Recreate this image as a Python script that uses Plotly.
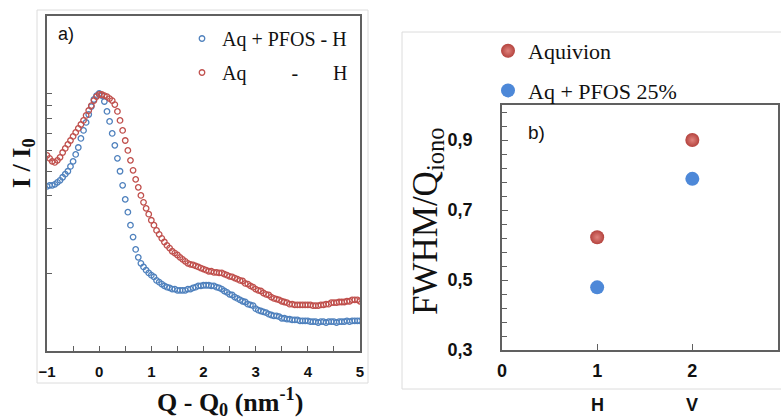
import plotly.graph_objects as go

# ---------------- Panel a data ----------------
q = [-1.00, -0.95, -0.90, -0.85, -0.80, -0.75, -0.70, -0.65, -0.60, -0.55,
     -0.50, -0.45, -0.40, -0.35, -0.30, -0.25, -0.20, -0.15, -0.10, -0.05,
     0.00, 0.05, 0.10, 0.15, 0.20, 0.25, 0.30, 0.35, 0.40, 0.45,
     0.50, 0.55, 0.60, 0.65, 0.70, 0.75, 0.80, 0.85, 0.90, 0.95,
     1.00, 1.05, 1.10, 1.15, 1.20, 1.25, 1.30, 1.35, 1.40, 1.45,
     1.50, 1.55, 1.60, 1.65, 1.70, 1.75, 1.80, 1.85, 1.90, 1.95,
     2.00, 2.05, 2.10, 2.15, 2.20, 2.25, 2.30, 2.35, 2.40, 2.45,
     2.50, 2.55, 2.60, 2.65, 2.70, 2.75, 2.80, 2.85, 2.90, 2.95,
     3.00, 3.05, 3.10, 3.15, 3.20, 3.25, 3.30, 3.35, 3.40, 3.45,
     3.50, 3.55, 3.60, 3.65, 3.70, 3.75, 3.80, 3.85, 3.90, 3.95,
     4.00, 4.05, 4.10, 4.15, 4.20, 4.25, 4.30, 4.35, 4.40, 4.45,
     4.50, 4.55, 4.60, 4.65, 4.70, 4.75, 4.80, 4.85, 4.90, 4.95, 5.00]

i_pfos_h = [0.436, 0.440, 0.440, 0.444, 0.452, 0.460, 0.473, 0.486, 0.499, 0.521,
            0.545, 0.580, 0.617, 0.669, 0.719, 0.772, 0.829, 0.890, 0.948, 0.982,
            1.000, 0.982, 0.931, 0.852, 0.779, 0.700, 0.629, 0.560, 0.499, 0.440,
            0.388, 0.346, 0.308, 0.277, 0.248, 0.231, 0.219, 0.212, 0.206, 0.201,
            0.197, 0.194, 0.188, 0.185, 0.182, 0.179, 0.177, 0.176, 0.174, 0.174,
            0.172, 0.172, 0.172, 0.172, 0.174, 0.174, 0.176, 0.177, 0.179, 0.179,
            0.180, 0.180, 0.180, 0.179, 0.179, 0.177, 0.176, 0.174, 0.171, 0.169,
            0.166, 0.165, 0.162, 0.160, 0.158, 0.156, 0.155, 0.152, 0.151, 0.150,
            0.146, 0.144, 0.143, 0.142, 0.141, 0.139, 0.138, 0.137, 0.137, 0.136,
            0.134, 0.134, 0.133, 0.133, 0.132, 0.132, 0.132, 0.131, 0.131, 0.131,
            0.131, 0.130, 0.130, 0.130, 0.129, 0.130, 0.130, 0.129, 0.130, 0.130,
            0.130, 0.129, 0.130, 0.130, 0.130, 0.131, 0.130, 0.131, 0.131, 0.131, 0.131]

i_aq_h = [0.575, 0.560, 0.545, 0.540, 0.550, 0.565, 0.590, 0.612, 0.634, 0.657,
          0.681, 0.706, 0.732, 0.758, 0.786, 0.822, 0.859, 0.898, 0.939, 0.973,
          0.991, 0.991, 0.982, 0.973, 0.956, 0.939, 0.906, 0.852, 0.786, 0.719,
          0.657, 0.601, 0.550, 0.503, 0.464, 0.432, 0.402, 0.378, 0.358, 0.340,
          0.322, 0.308, 0.294, 0.284, 0.274, 0.265, 0.257, 0.251, 0.244, 0.240,
          0.236, 0.231, 0.227, 0.223, 0.219, 0.217, 0.216, 0.214, 0.212, 0.210,
          0.208, 0.206, 0.204, 0.204, 0.202, 0.202, 0.201, 0.201, 0.199, 0.197,
          0.195, 0.194, 0.192, 0.190, 0.188, 0.187, 0.183, 0.182, 0.179, 0.177,
          0.174, 0.172, 0.171, 0.168, 0.166, 0.165, 0.162, 0.160, 0.159, 0.158,
          0.156, 0.155, 0.154, 0.152, 0.152, 0.151, 0.151, 0.151, 0.151, 0.151,
          0.151, 0.151, 0.150, 0.150, 0.150, 0.151, 0.151, 0.152, 0.152, 0.154,
          0.154, 0.154, 0.155, 0.155, 0.155, 0.156, 0.156, 0.158, 0.158, 0.158, 0.156]

# ---------------- Panel b data ----------------
membrane_pos = [1, 2]
membrane_labels = ["H", "V"]
fwhm_aquivion = [0.622, 0.900]
fwhm_aq_pfos25 = [0.479, 0.789]
b_ytick_vals = [0.3, 0.5, 0.7, 0.9]

RED = "#c0504d"
BLUE = "#4f81bd"
AXC = "#606060"
SERIF = "Liberation Serif"
SANS = "Liberation Sans"
NB = "\u00a0"

fig = go.Figure()

fig.add_trace(go.Scatter(
    x=q, y=i_pfos_h, mode="markers", name="Aq + PFOS - H",
    marker=dict(symbol="circle-open", size=5.5, color=BLUE, line=dict(width=1.3, color=BLUE)),
    xaxis="x", yaxis="y", legend="legend", legendgroup="a1"))
fig.add_trace(go.Scatter(
    x=q, y=i_aq_h, mode="markers",
    name="Aq" + NB * 9 + "-" + NB * 7 + "H",
    marker=dict(symbol="circle-open", size=5.5, color=RED, line=dict(width=1.3, color=RED)),
    xaxis="x", yaxis="y", legend="legend", legendgroup="a2"))

fig.add_trace(go.Scatter(
    x=membrane_pos, y=fwhm_aquivion, mode="markers", name="Aquivion",
    marker=dict(size=14, color="#b4433e", gradient=dict(type="radial", color="#e0837d")),
    xaxis="x2", yaxis="y2", legend="legend2", legendgroup="b1"))
fig.add_trace(go.Scatter(
    x=membrane_pos, y=fwhm_aq_pfos25, mode="markers", name="Aq + PFOS 25%",
    marker=dict(size=14, color="#4d88d8"),
    xaxis="x2", yaxis="y2", legend="legend2", legendgroup="b2"))

W, H = 781, 419

def px(xp):
    return xp / W

def py(yp):
    return (H - yp) / H

fig.update_layout(
    width=W, height=H,
    margin=dict(l=0, r=0, t=0, b=0, autoexpand=False),
    paper_bgcolor="white", plot_bgcolor="white",
    separators=",.",
    showlegend=True,
    xaxis=dict(domain=[px(47), px(360)], range=[-1, 5], dtick=1, tick0=0,
               showline=True, linecolor=AXC, linewidth=1.5, mirror=True,
               ticks="inside", ticklen=5, tickcolor=AXC, tickwidth=1,
               minor=dict(dtick=0.5, ticks="inside", ticklen=5, tickcolor=AXC),
               showgrid=False, zeroline=False, anchor="y",
               tickfont=dict(family=SANS, size=15, color="#111", weight="bold"),
               ticklabelstandoff=6),
    yaxis=dict(domain=[py(351), py(16)], type="log", range=[-1, 0.30103], dtick="D1",
               showline=True, linecolor=AXC, linewidth=1.5, mirror=True,
               ticks="inside", ticklen=5, tickcolor=AXC, tickwidth=1,
               showticklabels=False, showgrid=False, zeroline=False, anchor="x"),
    xaxis2=dict(domain=[px(502), px(778)], range=[0, 2.9], dtick=1, tick0=0,
                showline=True, linecolor=AXC, linewidth=1.5, mirror=True,
                ticks="inside", ticklen=6, tickcolor=AXC,
                showgrid=False, zeroline=False, anchor="y2",
                tickfont=dict(family=SANS, size=18, color="#111", weight="bold"),
                ticklabelstandoff=4),
    yaxis2=dict(domain=[py(350), py(105)], range=[0.3, 1.0],
                tickvals=b_ytick_vals, tickformat=".1f",
                showline=True, linecolor=AXC, linewidth=1.5, mirror=True,
                ticks="inside", ticklen=6, tickcolor=AXC,
                minor=dict(dtick=0.04, tick0=0.3, ticks="inside", ticklen=5, tickcolor=AXC),
                showgrid=False, zeroline=False, anchor="x2",
                tickfont=dict(family=SANS, size=18, color="#111", weight="bold"),
                ticklabelstandoff=24),
    legend=dict(x=px(182), y=py(19), xanchor="left", yanchor="top",
                bgcolor="rgba(0,0,0,0)", tracegroupgap=5,
                font=dict(family=SERIF, size=20, color="#111")),
    legend2=dict(x=px(488), y=py(30), xanchor="left", yanchor="top",
                 bgcolor="rgba(0,0,0,0)", tracegroupgap=8,
                 font=dict(family=SERIF, size=22, color="#111")),
)

shapes = [
    dict(type="rect", xref="paper", yref="paper", x0=px(37), x1=px(368), y0=py(383), y1=py(10),
         line=dict(color="#dcdcdc", width=1), layer="below"),
    dict(type="rect", xref="paper", yref="paper", x0=px(402), x1=px(790), y0=py(389), y1=py(32),
         line=dict(color="#dcdcdc", width=1), layer="below"),
]
fig.update_layout(shapes=shapes)

def ann(text, x, y, size, family, angle=0, xref="paper"):
    return dict(text=text, x=x, y=y, xref=xref, yref="paper", showarrow=False,
                xanchor="center", yanchor="middle", textangle=angle,
                font=dict(family=family, size=size, color="#111"))

annotations = [
    ann("a)", px(66), py(34), 18, SANS),
    ann("b)", px(536), py(132), 19, SANS),
    ann("<b>Q - Q<sub>0</sub> (nm<sup>-1</sup>)</b>", px(230), py(402), 26, SERIF),
    ann("<b>I / I<sub>0</sub></b>", px(23), py(163), 26, SERIF, angle=-90),
    ann("FWHM/Q<sub>iono</sub>", px(427), py(222), 35, SERIF, angle=-90),
]
for pos, lab in zip(membrane_pos, membrane_labels):
    annotations.append(ann(f"<b>{lab}</b>", pos, py(405), 18, SANS, xref="x2"))
fig.update_layout(annotations=annotations)

fig.write_html("out.html", config={"displayModeBar": False},
               post_script="document.body.style.margin='0px';")
